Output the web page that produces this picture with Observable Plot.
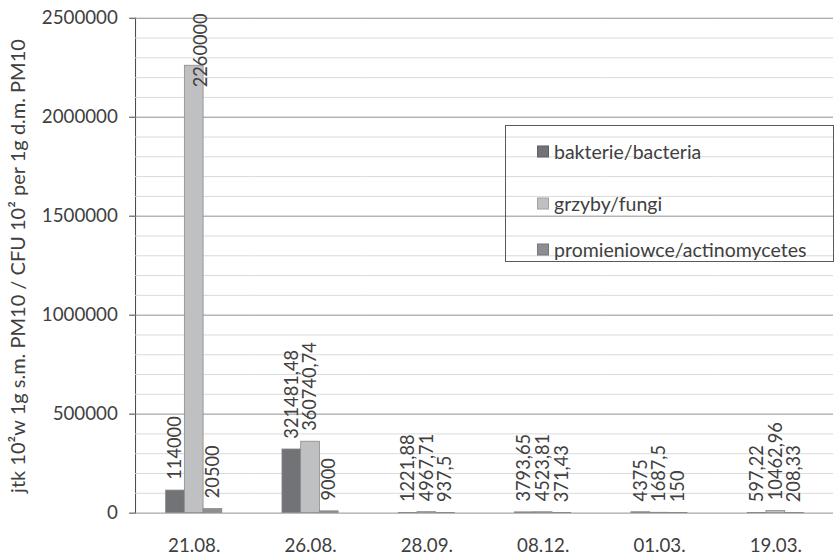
<!DOCTYPE html>
<html><head><meta charset="utf-8">
<script src="https://cdn.jsdelivr.net/npm/d3@7"></script>
<script src="https://cdn.jsdelivr.net/npm/@observablehq/plot@0.6"></script>
<style>
body{margin:0;background:#fff;overflow:hidden}
#wrap{position:relative;width:834px;height:558px;overflow:hidden;font-family:Lato,sans-serif;color:#404040;background:#fff}
#chart svg{overflow:visible;display:block}
#ytitle{position:absolute;left:17px;top:266px;transform:translate(-50%,-50%) rotate(-90deg);white-space:nowrap;font-size:20px;color:#404040}
#legend{position:absolute;left:505px;top:125px;width:329px;height:137px;border:1px solid #595959;box-sizing:border-box}
.item{position:absolute;left:31px;display:flex;align-items:center;font-size:19.5px;color:#404040;transform:translateY(-50%)}
.sw{width:12px;height:12px;margin-right:5px;box-sizing:border-box;border:1px solid rgba(0,0,0,0.15)}
</style></head>
<body><div id="wrap"><div id="chart"></div><div id="ytitle"></div><div id="legend"></div></div>
<script>
const dates = ["21.08.", "26.08.", "28.09.", "08.12.", "01.03.", "19.03."];
const series = ["bakterie/bacteria", "grzyby/fungi", "promieniowce/actinomycetes"];
const bacteria = [114000, 321481.48, 1221.88, 3793.65, 4375, 597.22];
const fungi = [2260000, 360740.74, 4967.71, 4523.81, 1687.5, 10462.96];
const actino = [20500, 9000, 937.5, 371.43, 150, 208.33];
const colors = ["#727376", "#bfc0c2", "#8d8e91"];
const majorTicks = [0, 500000, 1000000, 1500000, 2000000, 2500000];
const minorTicks = [100000, 200000, 300000, 400000, 600000, 700000, 800000, 900000,
  1100000, 1200000, 1300000, 1400000, 1600000, 1700000, 1800000, 1900000,
  2100000, 2200000, 2300000, 2400000];
const yTitle = "jtk 10\u00B2w 1g s.m. PM10 / CFU 10\u00B2 per 1g d.m.  PM10";

const values = [bacteria, fungi, actino];
const rows = [];
dates.forEach((d, i) => series.forEach((s, j) => rows.push({date: d, series: s, value: values[j][i]})));
const fmt = v => String(v).replace(".", ",");
const tooTall = 2000000;

const chart = Plot.plot({
  width: 846, height: 558,
  marginTop: 18, marginBottom: 38, marginLeft: 135, marginRight: 0,
  style: {fontFamily: "Lato, sans-serif", fontSize: "19px", color: "#404040", background: "#fff", overflow: "visible"},
  facet: {data: rows, x: "date"},
  fx: {domain: dates, padding: 0, label: null, axis: null},
  x: {domain: series, paddingInner: 0, paddingOuter: 1.5, axis: null},
  y: {domain: [0, 2500000], ticks: majorTicks, tickFormat: d => String(d), tickSize: 6, tickPadding: 12, line: true, label: null},
  color: {domain: series, range: colors},
  marks: [
    Plot.ruleY(minorTicks, {stroke: "#d9d9d9", strokeWidth: 1}),
    Plot.ruleY(majorTicks, {stroke: "#8f8f8f", strokeWidth: 1}),
    Plot.barY(rows, {x: "series", y: "value", fill: "series", stroke: "#8a8a8c", strokeWidth: 0.8, inset: 0}),
    Plot.text(rows, {filter: r => r.value < tooTall, x: "series", y: "value", text: r => fmt(r.value),
      rotate: -90, textAnchor: "start", dy: -11, fontSize: 18.5, fill: "#404040"}),
    Plot.text(rows, {filter: r => r.value >= tooTall, x: "series", text: r => fmt(r.value),
      frameAnchor: "top", rotate: -90, textAnchor: "end", dy: -5, fontSize: 18.5, fill: "#404040"}),
    Plot.text(rows, {filter: r => r.series === series[1], x: "series", text: "date",
      frameAnchor: "bottom", lineAnchor: "top", dy: 26, fontSize: 19, fill: "#404040"})
  ]
});
const sel = d3.select(chart);
sel.selectAll('g[aria-label="y-axis"] .tick line, g[aria-label="y-axis"] path.domain, g[aria-label="y-axis"] path')
  .attr("stroke", "#a8a8a8");
document.getElementById("chart").appendChild(chart);
document.getElementById("ytitle").textContent = yTitle;

const legendTops = [25, 77, 123];
const legend = document.getElementById("legend");
series.forEach((s, j) => {
  const it = document.createElement("div");
  it.className = "item";
  it.style.top = legendTops[j] + "px";
  const sw = document.createElement("span");
  sw.className = "sw";
  sw.style.background = colors[j];
  const tx = document.createElement("span");
  tx.textContent = s;
  it.appendChild(sw); it.appendChild(tx);
  legend.appendChild(it);
});
</script></body></html>
